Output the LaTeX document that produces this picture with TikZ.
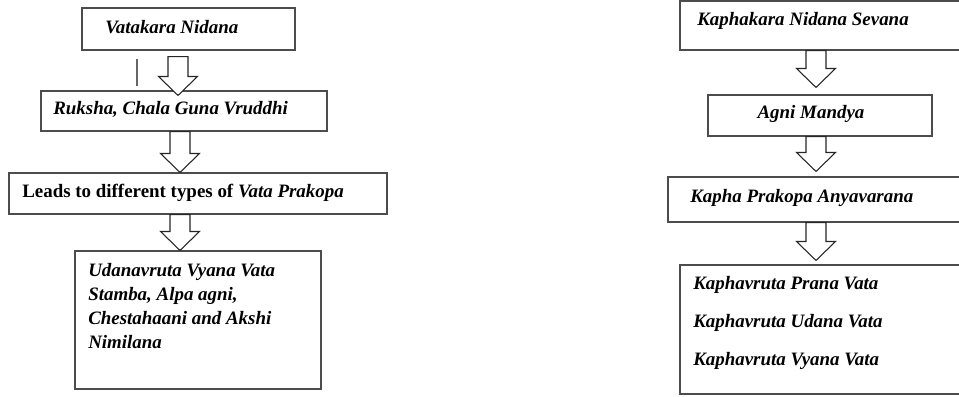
\documentclass[tikz,border=0pt]{standalone}
\usepackage{fontspec}
\setmainfont{Liberation Serif}
\usetikzlibrary{calc,fit}
\tikzset{
  bx/.style={rectangle,draw=black!70,line width=.8pt,inner sep=0pt},
  lb/.style={font=\fontsize{14.2}{18}\selectfont\bfseries\itshape,inner sep=0pt},
  blk/.style={draw=black!85,fill=white,line width=.8pt,line join=miter},
  strk/.style={draw=black!60,line width=.8pt},
}
% hollow block arrow: x, upper box, lower box, shift of tail, shift of tip
\newcommand{\flowarrow}[5]{%
  \path (#1,0 |- #2.south) ++(0,#4) coordinate (ftop)
        (#1,0 |- #3.north) ++(0,#5) coordinate (ftip);
  \draw[blk] ($(ftop)+(-10,0)$) -- ($(ftip)+(-10,-19)$) -- ($(ftip)+(-19.5,-19)$)
    -- (ftip) -- ($(ftip)+(19.5,-19)$) -- ($(ftip)+(10,-19)$) -- ($(ftop)+(10,0)$) -- cycle;}

\begin{document}
\begin{tikzpicture}[x=.75pt,y=-.75pt]
\useasboundingbox (0,0) rectangle (959,396);
\clip (0,0) rectangle (959,396);
% ---- vata side
\node[bx,fit={(82,8) (295,50)}] (v1) {};
\node[bx,fit={(41,91) (327,131)}] (v2) {};
\node[bx,fit={(9,173) (387,214)}] (v3) {};
\node[bx,fit={(75,251) (321,389)}] (v4) {};
\node[lb,anchor=base west] (tv1) at (105,33) {Vatakara Nidana};
\node[lb,anchor=base west] (tv2) at (53,114) {Ruksha, Chala Guna Vruddhi};
\node[lb,anchor=base west] (tv3) at (22,197)
  {{\upshape Leads to different types of} Vata Prakopa};
% base of a multi-line node is its last line
\node[lb,anchor=base west,align=left] (tv4) at (88,348)
  {Udanavruta Vyana Vata\\Stamba, Alpa agni,\\Chestahaani and Akshi\\Nimilana};
\draw[strk] (137,59) -- (137,86);
\flowarrow{178}{v1}{v2}{6}{5}
\flowarrow{180}{v2}{v3}{0}{0}
\flowarrow{180}{v3}{v4}{0}{0}
% ---- kapha side
\node[bx,fit={(680,1) (1000,50)}] (k1) {};
\node[bx,fit={(708,95) (932,136)}] (k2) {};
\node[bx,fit={(668,177) (1000,222)}] (k3) {};
\node[bx,fit={(680,265) (1000,394)}] (k4) {};
\node[lb,anchor=base west] (tk1) at (697,26) {Kaphakara Nidana Sevana};
\node[lb,anchor=base] (tk2) at (811,118) {Agni Mandya};
\node[lb,anchor=base west] (tk3) at (690,202) {Kapha Prakopa Anyavarana};
\node[lb,anchor=base west] (tk4) at (693,289) {Kaphavruta Prana Vata};
\node[lb,anchor=base west] (tk5) at (693,327) {Kaphavruta Udana Vata};
\node[lb,anchor=base west] (tk6) at (693,365) {Kaphavruta Vyana Vata};
\flowarrow{816}{k1}{k2}{0}{-7}
\flowarrow{816}{k2}{k3}{0}{-5}
\flowarrow{816}{k3}{k4}{0}{-4}
\end{tikzpicture}
\end{document}
